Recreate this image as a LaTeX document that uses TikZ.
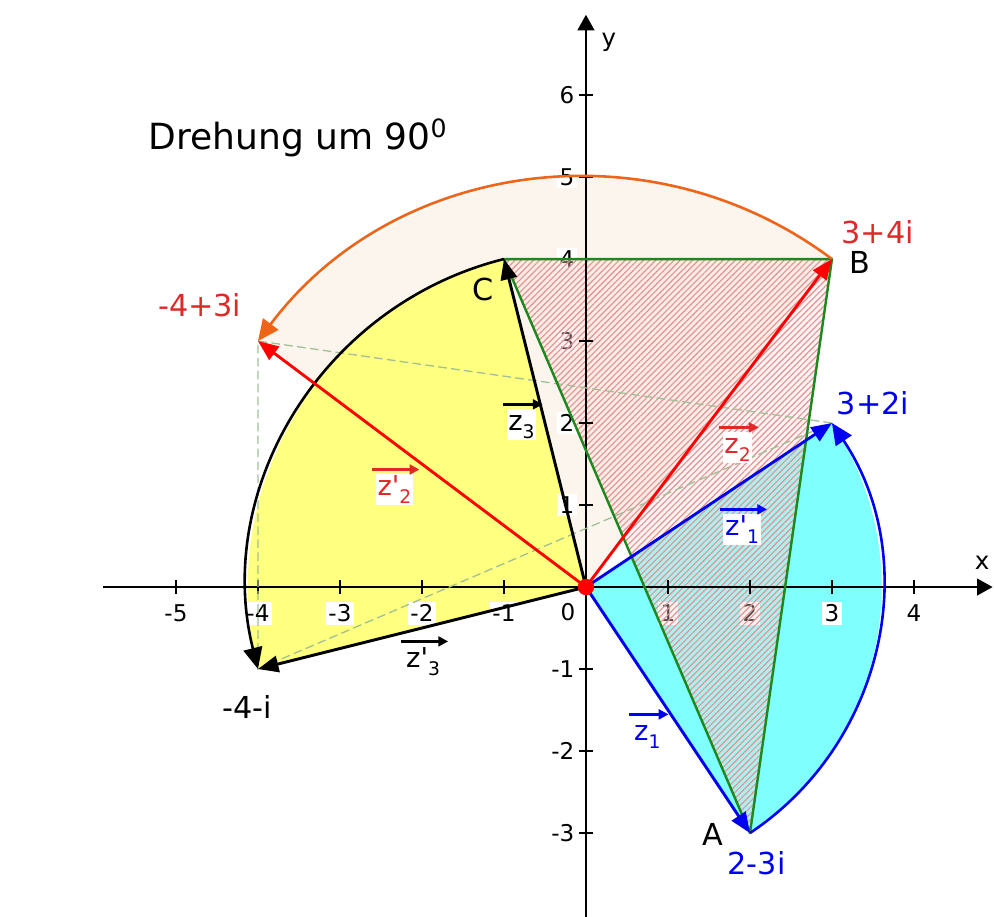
\documentclass[tikz,border=0pt]{standalone}
\usepackage{fontspec}
\setmainfont{DejaVu Sans}
\usepackage{tikz}
\usetikzlibrary{arrows.meta,patterns.meta,calc}
\definecolor{Vblue}{HTML}{0000F0}
\definecolor{Vred}{HTML}{FF0000}
\definecolor{Lred}{HTML}{E02828}
\definecolor{Orng}{HTML}{F06418}
\definecolor{Dgreen}{HTML}{1E881E}
\definecolor{Cyanf}{HTML}{80FFFF}
\definecolor{Yell}{HTML}{FFFF80}
\definecolor{Cream}{HTML}{FCF5EE}
\definecolor{Hatch}{HTML}{E09494}
\definecolor{Dash}{HTML}{A0C098}
\newcommand{\zsub}[1]{\raisebox{-2.8pt}{\fontsize{6.5}{7}\selectfont #1}}
\newcommand{\zp}{z\textquotesingle}
\tikzset{
  axis/.style={-{Triangle[length=1.9mm,width=2mm]}, line width=1pt},
  tickmark/.style={line width=0.8pt},
  numlab/.style={font=\fontsize{8}{9}\selectfont, fill=white, inner sep=1pt},
  cplx/.style={font=\fontsize{10.5}{12}\selectfont, inner sep=1pt},
  vlab/.style={font=\fontsize{9.5}{11}\selectfont, fill=white, inner sep=0.6pt,
               text height=6.6pt, anchor=base west},
  vlarrow/.style={-{Triangle[length=1.2mm,width=1.2mm]}, line width=0.9pt},
  vec/.style={-{Triangle[length=2.5mm,width=2mm]}, line width=1pt},
  rotarc/.style={-{Triangle[length=2.6mm,width=2.3mm]}, line width=0.9pt},
  tri/.style={draw=Dgreen, line width=0.85pt, line join=round},
  rotdash/.style={draw=Dash, line width=0.45pt, dash pattern=on 3pt off 1.5pt},
  hatched/.style={pattern={Lines[angle=45,distance=1.5pt,line width=0.4pt]}, pattern color=Hatch},
  dot/.style={circle, fill=Vred, inner sep=0pt, minimum size=2mm},
}
\begin{document}
\begin{tikzpicture}[x=1cm,y=1cm]
  \useasboundingbox (-7.146,-4.012) rectangle (4.976,7.159);
  \coordinate (O) at (0,0);
  \coordinate (A) at (2,-3);
  \coordinate (B) at (3,4);
  \coordinate (C) at (-1,4);
  \coordinate (A1) at (3,2);
  \coordinate (B1) at (-4,3);
  \coordinate (C1) at (-4,-1);
  \coordinate (xmin) at (-5.89,0);
  \coordinate (xmax) at (4.96,0);
  \coordinate (ymin) at (0,-4.02);
  \coordinate (ymax) at (0,6.98);

  % sectors swept by the rotation
  \fill[Cream] (O) -- (B) arc[start angle=53.13, end angle=143.13, radius=5] -- cycle;
  \fill[Yell] (O) -- (C) arc[start angle=104.04, end angle=194.04, radius=4.1231] -- cycle;
  \fill[Cyanf] (O) -- (A) arc[start angle=-56.31, end angle=33.69, radius=3.6056] -- cycle;

  % scale numbers
  \foreach \k in {-5,-4,-3,-2,-1,1,2,3,4}
    \node[numlab] (xl\k) at (\k,-0.32) {\k};
  \node[numlab] (xl0) at (-0.22,-0.31) {0};
  \foreach \k in {-3,-2,-1,1,2,3,4,5,6}
    \node[numlab, anchor=east] (yl\k) at (-0.1,\k) {\k};

  % triangle ABC
  \fill[red!15, fill opacity=0.35] (A) -- (B) -- (C) -- cycle;
  \fill[hatched] (A) -- (B) -- (C) -- cycle;

  % axes
  \draw[axis] (xmin) -- (xmax);
  \draw[axis] (ymin) -- (ymax);
  \foreach \k in {-5,-4,-3,-2,-1,1,2,3,4}
    \draw[tickmark] (\k,-0.08) -- (\k,0.08);
  \foreach \k in {-3,-2,-1,1,2,3,4,5,6}
    \draw[tickmark] (-0.08,\k) -- (0.08,\k);
  \node[font=\fontsize{8.5}{10}\selectfont] (xlab) at (4.83,0.3) {x};
  \node[font=\fontsize{8.5}{10}\selectfont] (ylab) at (0.28,6.64) {y};

  % rotated triangle and original triangle
  \draw[rotdash] (A1) -- (B1) -- (C1) -- cycle;
  \draw[tri] (A) -- (B) -- (C) -- cycle;

  % rotation arcs
  \draw[rotarc, Orng] (B) arc[start angle=53.13, end angle=143.13, radius=5];
  \draw[rotarc, Vblue] (A) arc[start angle=-56.31, end angle=33.69, radius=3.6056];
  \draw[rotarc, black] (C) arc[start angle=104.04, end angle=194.04, radius=4.1231];

  % vectors
  \draw[vec, Vblue] (O) -- (A);
  \draw[vec, Vblue] (O) -- (A1);
  \draw[vec, Vred] (O) -- (B);
  \draw[vec, Vred] (O) -- (B1);
  \draw[vec, black] (O) -- (C);
  \draw[vec, black] (O) -- (C1);
  \node[dot] (o) at (O) {};

  % texts
  \node[font=\fontsize{12.5}{14}\selectfont, anchor=base west, inner sep=0pt] (title) at (-5.34,5.33) {Drehung um 90\textsuperscript{0}};
  \node[cplx, text=Lred] (lB1) at (-4.71,3.44) {-4+3i};
  \node[cplx, text=Lred, anchor=east] (lB) at (4.04,4.33) {3+4i};
  \node[cplx] (nB) at (3.34,3.96) {B};
  \node[cplx] (nC) at (-1.26,3.63) {C};
  \node[cplx] (nA) at (1.55,-3.02) {A};
  \node[cplx, text=Vblue] (lA1) at (3.5,2.24) {3+2i};
  \node[cplx, text=Vblue] (lA) at (2.08,-3.37) {2-3i};
  \node[cplx] (lC1) at (-4.13,-1.46) {-4-i};

  \node[vlab, text=Vblue, fill=none] (vz1) at (0.56,-1.866) {z\zsub{1}};
  \node[vlab, text=Vblue] (vz1r) at (1.67,0.634) {\zp\zsub{1}};
  \node[vlab, text=Lred] (vz2) at (1.66,1.634) {z\zsub{2}};
  \node[vlab, text=Lred] (vz2r) at (-2.57,1.12) {\zp\zsub{2}};
  \node[vlab] (vz3) at (-0.975,1.915) {z\zsub{3}};
  \node[vlab, fill=none] (vz3r) at (-2.22,-0.976) {\zp\zsub{3}};
  \draw[vlarrow, Vblue] ([shift={(-1pt,1.5pt)}]vz1.north west) -- ([shift={(2pt,1.5pt)}]vz1.north east);
  \draw[vlarrow, Vblue] ([shift={(-1pt,1.5pt)}]vz1r.north west) -- ([shift={(2pt,1.5pt)}]vz1r.north east);
  \draw[vlarrow, Lred] ([shift={(-1pt,1.5pt)}]vz2.north west) -- ([shift={(2pt,1.5pt)}]vz2.north east);
  \draw[vlarrow, Lred] ([shift={(-1pt,1.5pt)}]vz2r.north west) -- ([shift={(2pt,1.5pt)}]vz2r.north east);
  \draw[vlarrow] ([shift={(-1pt,1.5pt)}]vz3.north west) -- ([shift={(2pt,1.5pt)}]vz3.north east);
  \draw[vlarrow] ([shift={(-1pt,1.5pt)}]vz3r.north west) -- ([shift={(2pt,1.5pt)}]vz3r.north east);
\end{tikzpicture}
\end{document}
